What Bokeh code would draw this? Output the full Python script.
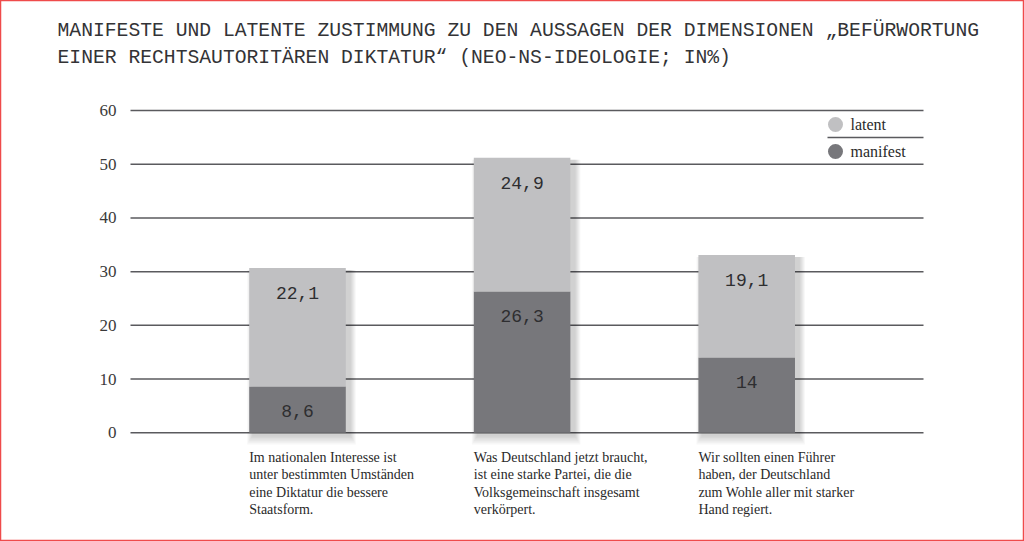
from bokeh.plotting import figure
from bokeh.models import ColumnDataSource, Range1d, LabelSet, Label, FixedTicker, LinearAxis
from bokeh.core.properties import value
from bokeh.embed import file_html
from bokeh.resources import INLINE

# ---- data ----
categories = [
    "Im nationalen Interesse ist\nunter bestimmten Umständen\neine Diktatur die bessere\nStaatsform.",
    "Was Deutschland jetzt braucht,\nist eine starke Partei, die die\nVolksgemeinschaft insgesamt\nverkörpert.",
    "Wir sollten einen Führer\nhaben, der Deutschland\nzum Wohle aller mit starker\nHand regiert.",
]
manifest = [8.6, 26.3, 14.0]
latent = [22.1, 24.9, 19.1]
manifest_labels = ["8,6", "26,3", "14"]
latent_labels = ["22,1", "24,9", "19,1"]
series_names = ["latent", "manifest"]
y_ticks = [0, 10, 20, 30, 40, 50, 60]
title_lines = [
    "MANIFESTE UND LATENTE ZUSTIMMUNG ZU DEN AUSSAGEN DER DIMENSIONEN „BEFÜRWORTUNG",
    "EINER RECHTSAUTORITÄREN DIKTATUR“ (NEO-NS-IDEOLOGIE; IN%)",
]

# ---- layout (frame covers the whole canvas) ----
W, H = 1024, 541
PX_X0, PX_UNIT_X = 297.0, 224.6      # pixel of first category centre, px per category
PX_Y0, PX_UNIT_Y = 432.3, 5.372      # pixel of value 0, px per unit
X0, X1 = -PX_X0 / PX_UNIT_X, (W - PX_X0) / PX_UNIT_X
Y0, Y1 = -(H - PX_Y0) / PX_UNIT_Y, PX_Y0 / PX_UNIT_Y
BAR_W = 0.43
GRID_L, GRID_R = 130, 923

def px2x(px):
    return (px - PX_X0) / PX_UNIT_X

def px2y(py):
    return (PX_Y0 - py) / PX_UNIT_Y

def dx(px):
    return px / PX_UNIT_X

def dy(px):
    return px / PX_UNIT_Y

xs = list(range(len(categories)))
total = [m + l for m, l in zip(manifest, latent)]
src = ColumnDataSource(dict(
    x=xs,
    xl=[x - BAR_W / 2 for x in xs],
    manifest=manifest,
    total=total,
    cat=categories,
    ml=manifest_labels,
    ll=latent_labels,
))

p = figure(width=W, height=H, output_backend="svg", toolbar_location=None,
           x_range=Range1d(X0, X1), y_range=Range1d(Y0, Y1),
           min_border=0, x_axis_location=None, y_axis_location=None)
p.outline_line_color = "#ef4b4b"
p.outline_line_width = 1.5
p.background_fill_color = "white"
p.border_fill_color = "white"
p.xgrid.grid_line_color = None
p.ygrid.grid_line_color = None

# y axis drawn inside the frame at the grid's left end
yaxis = LinearAxis(ticker=FixedTicker(ticks=y_ticks), fixed_location=px2x(GRID_L))
yaxis.axis_line_color = None
yaxis.major_tick_line_color = None
yaxis.minor_tick_line_color = None
yaxis.major_label_standoff = 8
yaxis.major_label_text_font = "Liberation Serif"
yaxis.major_label_text_font_size = "17px"
yaxis.major_label_text_color = "#3a3a3a"
p.add_layout(yaxis, "left")

# horizontal grid lines at the tick values
p.segment(x0=[px2x(GRID_L)] * len(y_ticks), x1=[px2x(GRID_R)] * len(y_ticks),
          y0=y_ticks, y1=y_ticks, line_color="#5a5a5e", line_width=1.5)

# soft drop shadows
for k in range(1, 7):
    sh = ColumnDataSource(dict(
        x=[x + dx(4) for x in xs],
        top=[t - dy(2) for t in total],
    ))
    p.vbar(x="x", bottom=-dy(2 + 1.6 * k), top="top", width=BAR_W + dx(2 * k),
           source=sh, fill_color="#000000", fill_alpha=0.03, line_color=None)

p.vbar(x="x", bottom=0, top="manifest", width=BAR_W, source=src,
       fill_color="#77777b", line_color=None)
p.vbar(x="x", bottom="manifest", top="total", width=BAR_W, source=src,
       fill_color="#c0c0c2", line_color=None)

mono = "Liberation Mono"
p.add_layout(LabelSet(x="x", y="manifest", text="ml", source=src,
                      text_font=value(mono), text_font_size="18px",
                      text_color="#2e2e30", text_align="center",
                      text_baseline="middle", y_offset=-24))
p.add_layout(LabelSet(x="x", y="total", text="ll", source=src,
                      text_font=value(mono), text_font_size="18px",
                      text_color="#2e2e30", text_align="center",
                      text_baseline="middle", y_offset=-25))

# category labels below bars, left-aligned to each bar
p.add_layout(LabelSet(x="xl", y=0, text="cat", source=src,
                      text_font=value("Liberation Serif"), text_font_size="14px",
                      text_color="#2a2a2a", text_align="left",
                      text_baseline="top", y_offset=-17, text_line_height=1.16))

# legend
leg_colors = ["#c0c0c2", "#77777b"]
leg_src = ColumnDataSource(dict(x=[px2x(835)] * 2, y=[px2y(124), px2y(151)],
                                c=leg_colors, tx=[px2x(850)] * 2, t=series_names))
p.scatter(x="x", y="y", size=15, marker="circle", fill_color="c",
          line_color=None, source=leg_src)
p.text(x="tx", y="y", text="t", source=leg_src, text_font=value("Liberation Serif"),
       text_font_size="16px", text_color="#2a2a2a", text_baseline="middle")
p.segment(x0=[px2x(827)], y0=[px2y(137)], x1=[px2x(GRID_R)], y1=[px2y(137)],
          line_color="#5a5a5e", line_width=1.5)

# title
for i, t in enumerate(title_lines):
    p.add_layout(Label(x=px2x(57), y=px2y(30 + 27.5 * i), text=t,
                       text_font=mono, text_font_size="19.7px",
                       text_color="#333336", text_baseline="alphabetic",
                       text_align="left"))

open("out.html", "w").write(file_html(p, INLINE))
